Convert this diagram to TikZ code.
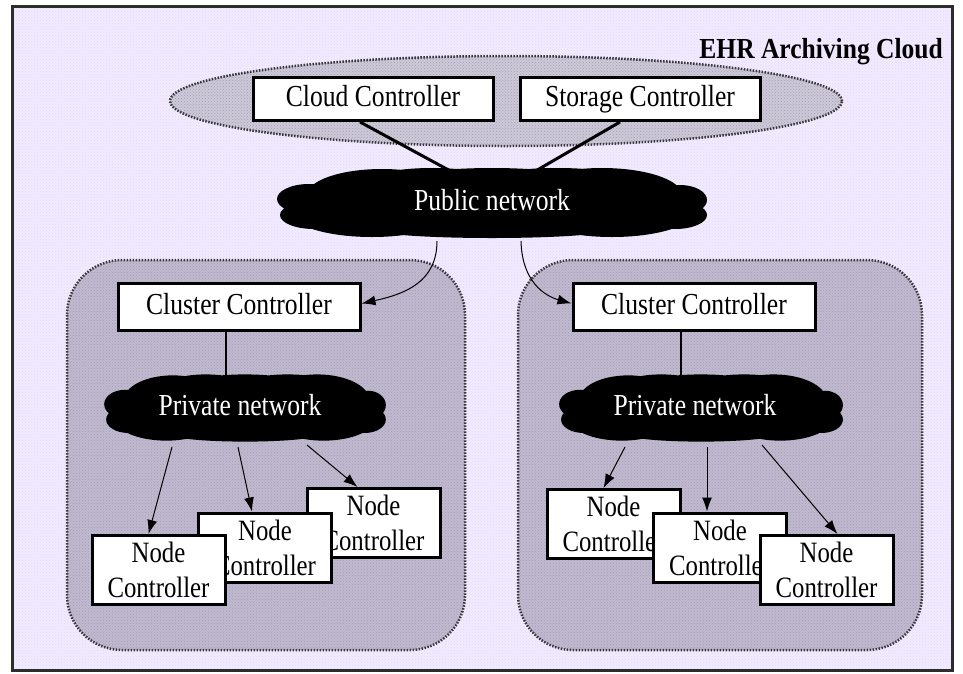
\documentclass[tikz,border=0pt]{standalone}
\usepackage{fontspec}
\setmainfont{Liberation Serif}[FakeStretch=0.84]
\newfontfamily\titlefont{Liberation Serif}[FakeStretch=0.88]
\usetikzlibrary{shapes.geometric,arrows.meta,calc,patterns}
\definecolor{bgc}{RGB}{242,235,255}
\definecolor{bgpat}{RGB}{226,216,245}
\definecolor{ellc}{RGB}{206,201,216}
\definecolor{clc}{RGB}{192,185,207}
\definecolor{zpat}{RGB}{165,158,180}
\definecolor{dotc}{RGB}{55,55,60}
\definecolor{framec}{RGB}{45,45,45}
\tikzset{
  ctrlbox/.style={draw=black, line width=3pt, fill=white, minimum width=240pt, minimum height=43pt, inner sep=0pt, text height=21pt, text depth=6pt, font=\fontsize{30.5}{32}\selectfont},
  nodebox/.style={draw=black, line width=3pt, fill=white, minimum width=133pt, minimum height=69pt, inner sep=0pt, align=center, font=\fontsize{29.5}{35}\selectfont},
  nettext/.style={text=white, inner sep=0pt, font=\fontsize{30.5}{32}\selectfont},
  cloudblob/.pic={
    \fill[black] (0,0) ellipse [x radius=150, y radius=35]
      (-110,-8) ellipse [x radius=75, y radius=26]
      (-120,10) ellipse [x radius=80, y radius=24]
      (110,-8) ellipse [x radius=80, y radius=27]
      (120,10) ellipse [x radius=80, y radius=24]
      (-183,-4) ellipse [x radius=32, y radius=15]
      (-178,12) ellipse [x radius=34, y radius=14]
      (188,-3) ellipse [x radius=27, y radius=15]
      (183,12) ellipse [x radius=32, y radius=14]
      (-60,-24) ellipse [x radius=58, y radius=11]
      (65,-26) ellipse [x radius=62, y radius=9]
      (0,27) ellipse [x radius=115, y radius=8];
  },
  zone/.style={draw=dotc, line width=2.5pt, dash pattern=on 1.5pt off 1.5pt, preaction={fill=clc}, pattern=crosshatch dots, pattern color=zpat},
  thickline/.style={draw=black, line width=3pt},
  midline/.style={draw=black, line width=2pt},
  arr/.style={draw=black, line width=1pt, -{Latex[length=14pt,width=10pt]}}
}
\begin{document}
\begin{tikzpicture}[x=1pt,y=-1pt]
\useasboundingbox (0,0) rectangle (963,673);
\fill[white] (0,0) rectangle (963,673);
% frame
\fill[bgc] (12,6) rectangle (952,670);
\fill[pattern=crosshatch dots, pattern color=bgpat] (12,6) rectangle (952,670);
\draw[framec, line width=3pt] (12,6) rectangle (952,670);
\node[font=\titlefont\bfseries\fontsize{29}{30}\selectfont, anchor=base east, inner sep=0pt] (title) at (943,58) {EHR Archiving Cloud};
% zones
\node[zone, ellipse, minimum width=672pt, minimum height=90pt, preaction={fill=ellc}] (topzone) at (506,101) {};
\draw[zone, rounded corners=55pt] (67,260) rectangle (465,650);
\draw[zone, rounded corners=55pt] (518,260) rectangle (922,650);
% top controllers
\node[ctrlbox] (cc) at (373,99) {Cloud Controller};
\node[ctrlbox] (sc) at (640,99) {Storage Controller};
% public network
\coordinate (pubL) at (467,180);
\coordinate (pubR) at (520,180);
\draw[thickline] ([xshift=-13pt]cc.south) -- (pubL);
\draw[thickline] ([xshift=-20pt]sc.south) -- (pubR);
\pic at (492,203) {cloudblob};
\node[nettext] (pub) at (492,200) {Public network};
% cluster controllers
\node[ctrlbox, minimum width=242pt, minimum height=47pt] (clL) at (239,306.5) {Cluster Controller};
\node[ctrlbox, minimum width=242pt, minimum height=47pt] (clR) at (694,306.5) {Cluster Controller};
\coordinate (pubBL) at (437,241);
\coordinate (pubBR) at (521,241);
\draw[arr] (pubBL) .. controls (437,282) and (405,294) .. ([yshift=3pt]clL.east);
\draw[arr] (pubBR) .. controls (522,282) and (545,296) .. ([yshift=3pt]clR.west);
% private networks
\coordinate (pvLtop) at (226,400);
\coordinate (pvRtop) at (681,400);
\draw[midline] ([xshift=-13pt]clL.south) -- (pvLtop);
\draw[midline] ([xshift=-13pt]clR.south) -- (pvRtop);
\pic[xscale=0.655, yscale=0.96] at (245,408) {cloudblob};
\pic[xscale=0.66, yscale=0.96] at (701,408) {cloudblob};
\node[nettext] (pvL) at (240,405) {Private network};
\node[nettext] (pvR) at (695,405) {Private network};
% left node controllers
\node[nodebox] (nc3) at (373.5,523) {Node\\Controller};
\node[nodebox] (nc2) at (265,547.5) {Node\\Controller};
\node[nodebox] (nc1) at (158.5,570) {Node\\Controller};
% right node controllers
\node[nodebox] (nca) at (613.5,524) {Node\\Controller};
\node[nodebox] (ncb) at (720,547.5) {Node\\Controller};
\node[nodebox] (ncc) at (826.5,570) {Node\\Controller};
% arrows from private networks
\coordinate (pl1) at (172,447);
\coordinate (pl2) at (238,447);
\coordinate (pl3) at (307,445);
\coordinate (pr1) at (625,447);
\coordinate (pr2) at (707,447);
\coordinate (pr3) at (762,445);
\draw[arr] (pl1) -- ([xshift=-10pt]nc1.north);
\draw[arr] (pl2) -- ([xshift=-13pt]nc2.north);
\draw[arr] (pl3) -- ([xshift=-16pt]nc3.north);
\draw[arr] (pr1) -- ([xshift=-10pt]nca.north);
\draw[arr] (pr2) -- ([xshift=-13pt]ncb.north);
\draw[arr] (pr3) -- ([xshift=11pt]ncc.north);
\end{tikzpicture}
\end{document}
